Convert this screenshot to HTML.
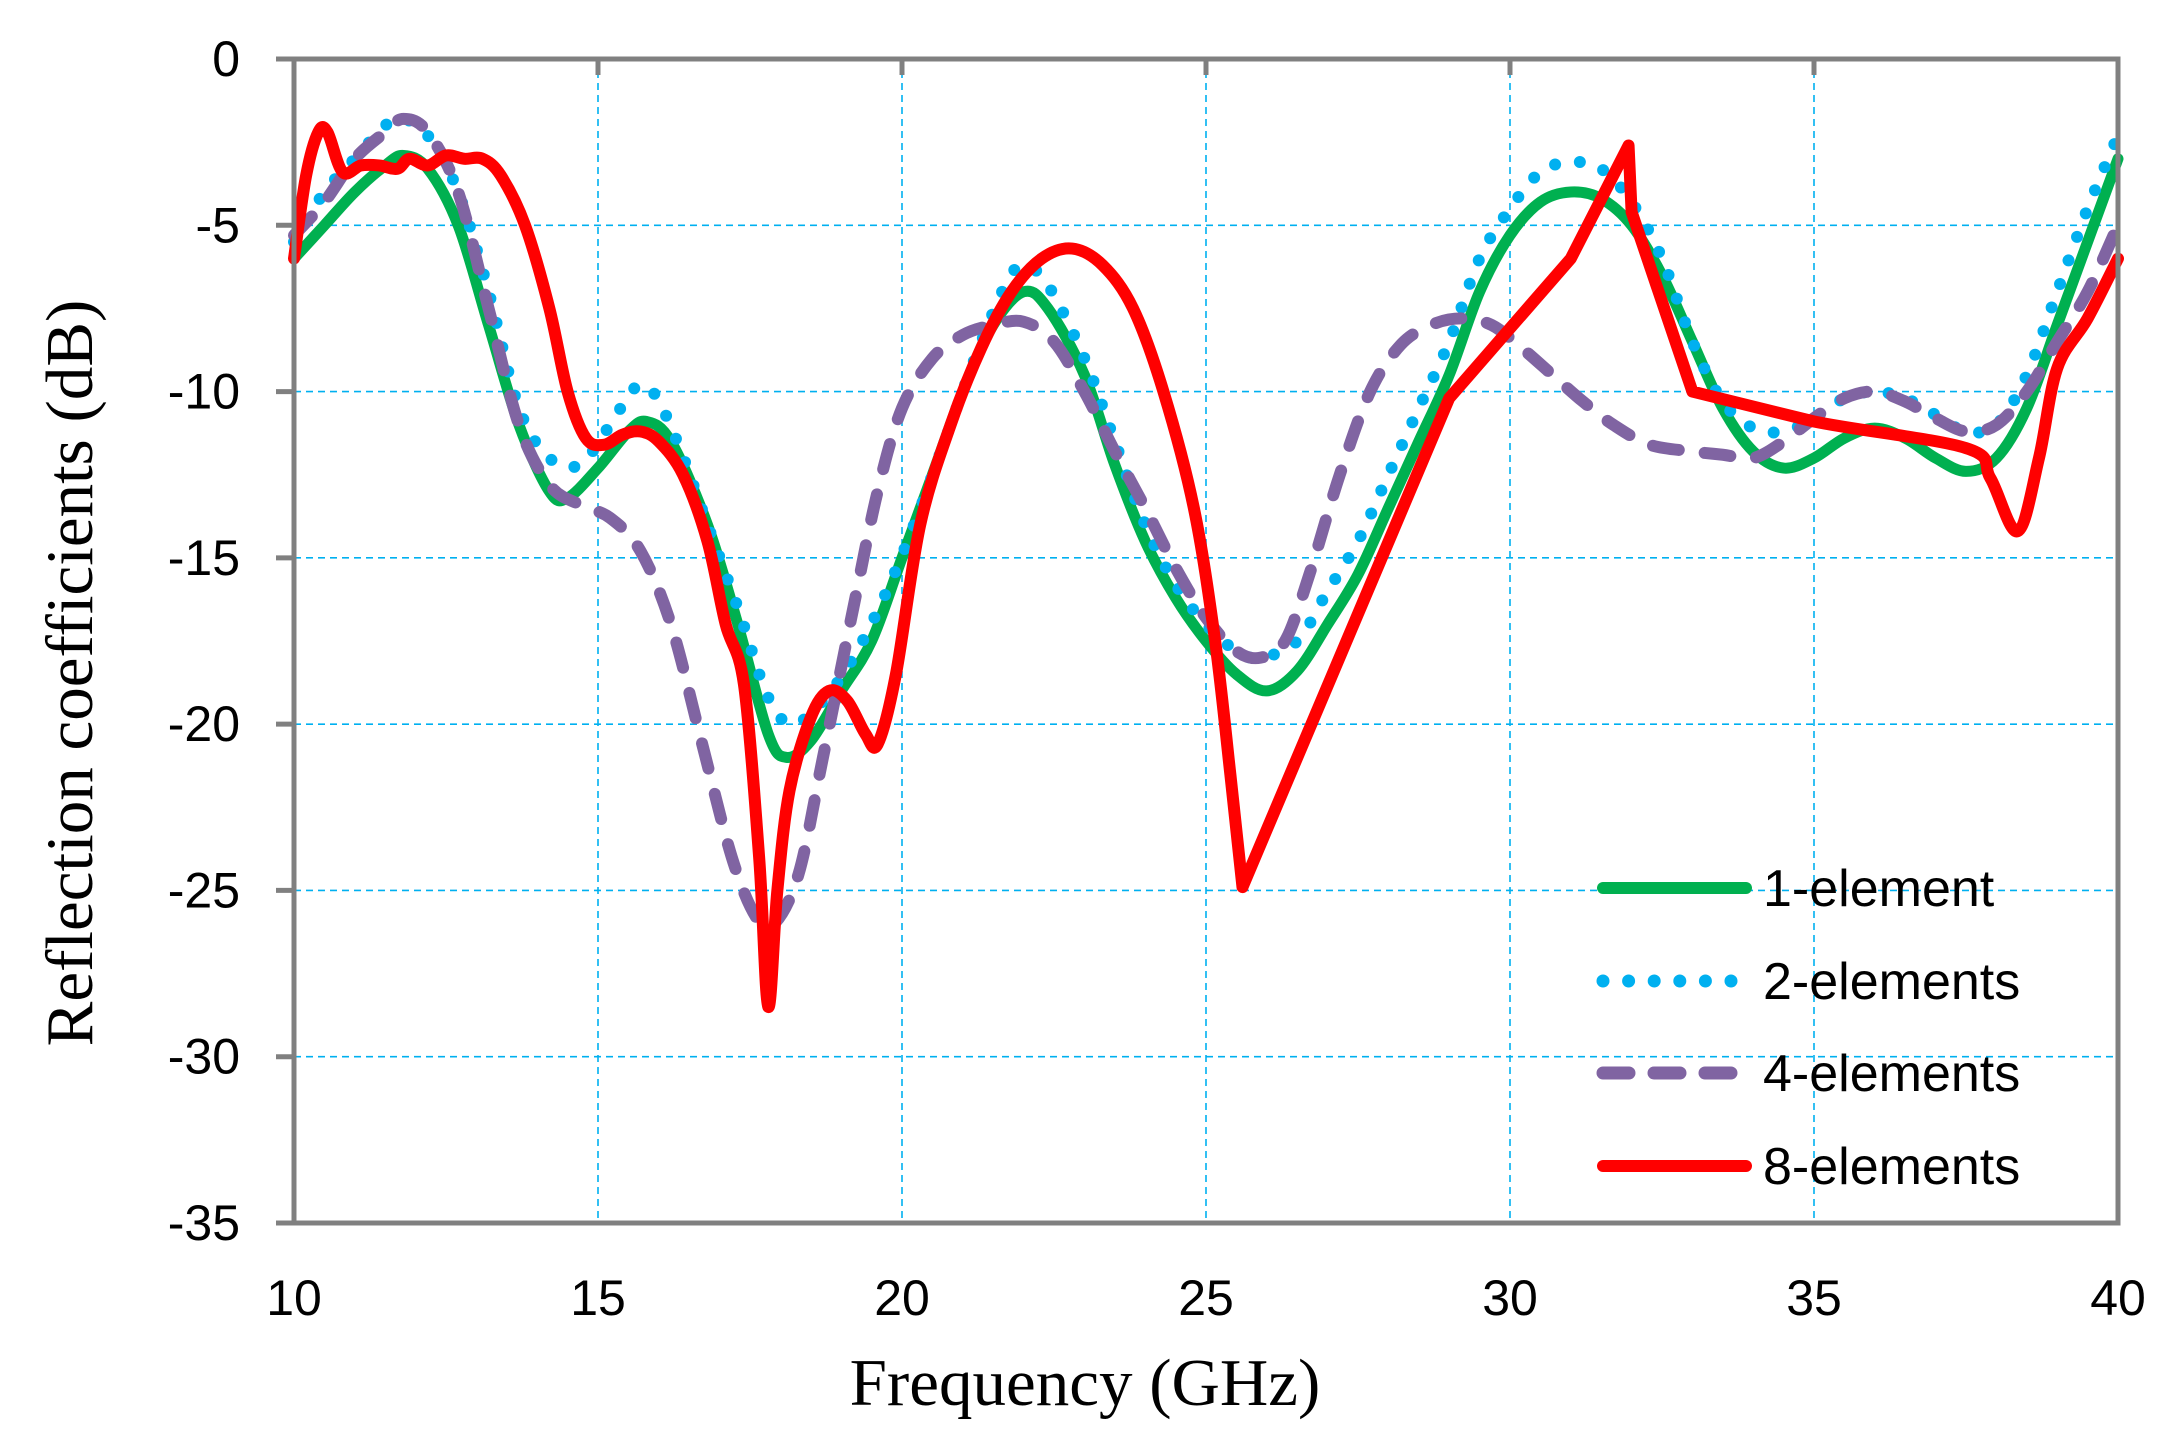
<!DOCTYPE html>
<html><head><meta charset="utf-8"><style>
html,body{margin:0;padding:0;background:#fff;}
svg{display:block;}
.t{font-family:"Liberation Sans",sans-serif;font-size:50px;fill:#000;}
.lg{font-family:"Liberation Sans",sans-serif;font-size:52px;fill:#000;}
.s{font-family:"Liberation Serif",serif;font-size:67px;fill:#000;}
</style></head><body>
<svg id="c" width="2165" height="1449" xmlns="http://www.w3.org/2000/svg">
<g id="grid" stroke="#00B0F0" stroke-width="1.6" stroke-dasharray="7 5"></g>
<g id="series" fill="none" stroke-linejoin="round" stroke-linecap="round"></g>
<g id="axes" stroke="#808080" stroke-width="5" fill="none"></g>
<g id="labels"></g>
<text class="s" x="1085" y="1405" text-anchor="middle">Frequency (GHz)</text>
<text class="s" transform="translate(92,673) rotate(-90)" text-anchor="middle">Reflection coefficients (dB)</text>
<g stroke-linecap="round" fill="none">
<line x1="1603" y1="888" x2="1746" y2="888" stroke="#00B050" stroke-width="12"/>
<line x1="1603" y1="981" x2="1746" y2="981" stroke="#00B0F0" stroke-width="13" stroke-dasharray="0 25.6"/>
<line x1="1603" y1="1073" x2="1746" y2="1073" stroke="#8064A2" stroke-width="13" stroke-dasharray="26 25"/>
<line x1="1603" y1="1166" x2="1746" y2="1166" stroke="#FF0000" stroke-width="12"/>
</g>
<text class="lg" x="1763" y="906">1-element</text>
<text class="lg" x="1763" y="999">2-elements</text>
<text class="lg" x="1763" y="1091">4-elements</text>
<text class="lg" x="1763" y="1184">8-elements</text>
</svg>
<script>
var L=294,R=2118,T=59,B=1223;
function X(f){return L+(f-10)*(R-L)/30;}
function Y(d){return T-d*(B-T)/35;}
var NS="http://www.w3.org/2000/svg";
function el(p,n,a,txt){var e=document.createElementNS(NS,n);for(var k in a)e.setAttribute(k,a[k]);if(txt!==undefined)e.textContent=txt;document.getElementById(p).appendChild(e);return e;}
for(var f=15;f<40;f+=5)el("grid","line",{x1:X(f),y1:T,x2:X(f),y2:B});
for(var d=-5;d>-35;d-=5)el("grid","line",{x1:L,y1:Y(d),x2:R,y2:Y(d)});
el("axes","rect",{x:L,y:T,width:R-L,height:B-T});
for(var d=0;d>=-35;d-=5){el("axes","line",{x1:L-18,y1:Y(d),x2:L,y2:Y(d)});
 el("labels","text",{"class":"t",x:240,y:Y(d)+17,"text-anchor":"end"},String(d));}
for(var f=10;f<=40;f+=5){el("axes","line",{x1:X(f),y1:T,x2:X(f),y2:T+16});
 el("labels","text",{"class":"t",x:X(f),y:1315,"text-anchor":"middle"},String(f));}
function path(pts){var p=pts.map(function(a){return [X(a[0]),Y(a[1]),a[2]];});
 var s="M"+p[0][0]+","+p[0][1];
 for(var i=0;i<p.length-1;i++){var p1=p[i],p2=p[i+1];
  if(p1[2]&&p2[2]){s+="L"+p2[0]+","+p2[1];continue;}
  var p0=p[i-1]||p1,p3=p[i+2]||p2;
  if(p2[2])p3=p2;
  var c1x=p1[0]+(p2[0]-p0[0])/6,c1y=p1[1]+(p2[1]-p0[1])/6,c2x=p2[0]-(p3[0]-p1[0])/6,c2y=p2[1]-(p3[1]-p1[1])/6;
  s+="C"+c1x+","+c1y+" "+c2x+","+c2y+" "+p2[0]+","+p2[1];}
 return s;}
function P(s){return s.trim().split(/\s+/).map(function(t){return t.split(":").map(Number);});}
var g=P("10:-6 10.5:-5 11:-4 11.5:-3.2 11.8:-2.9 12.2:-3.3 12.7:-5 13.2:-8 13.7:-11 14.2:-13 14.5:-13.2 15:-12.3 15.5:-11.2 15.8:-10.9 16.2:-11.5 16.8:-14 17.3:-17 17.8:-20.3 18.1:-21 18.5:-20.5 19:-19 19.5:-17.5 20:-15 20.5:-12.5 21:-10 21.5:-8 22:-7 22.4:-7.5 23:-9.5 23.5:-12.2 24:-14.5 24.5:-16.2 25:-17.5 25.5:-18.5 26:-19 26.5:-18.4 27:-17 27.5:-15.5 28:-13.5 28.5:-11.5 29:-9.5 29.5:-7 30:-5.3 30.5:-4.3 31:-4 31.5:-4.2 32:-5 32.5:-6.5 33:-8.5 33.5:-10.5 34:-11.8 34.5:-12.3 35:-12 35.5:-11.4 36:-11.1 36.5:-11.4 37:-12 37.5:-12.4 38:-12 38.5:-10.5 39:-8 39.5:-5.5 40:-3");
var b=P("10:-5.5 10.5:-4 11:-3 11.5:-2 11.8:-1.8 12.2:-2.3 12.7:-4 13.2:-7 13.7:-10.5 14.2:-12 14.7:-12.2 15.2:-11 15.6:-9.9 15.9:-10 16.3:-11.5 16.8:-14 17.3:-16.5 17.8:-19.2 18.2:-20 18.7:-19.3 19.2:-18 19.7:-16.2 20.2:-14 20.7:-11.5 21.2:-9 21.7:-6.8 22:-6.2 22.4:-6.8 23:-9 23.5:-11.5 24:-14 24.5:-15.8 25:-17 25.5:-17.8 25.9:-18 26.5:-17.5 27:-16 27.5:-14.5 28:-12.5 28.5:-10.5 29:-8.5 29.5:-6 30:-4.5 30.5:-3.4 31:-3.1 31.5:-3.3 32:-4.3 32.5:-6 33:-8.5 33.5:-10.3 34:-11.1 34.5:-11.2 35:-10.8 35.5:-10.2 36:-10 36.5:-10.2 37:-10.7 37.5:-11.2 38:-11 38.5:-9.5 39:-7 39.5:-4.5 40:-2.3");
var p=P("10:-5.3 10.5:-4.3 11:-3 11.5:-2.2 11.8:-1.8 12.2:-2.2 12.7:-4 13.2:-7.5 13.7:-11 14.2:-12.8 14.7:-13.4 15.2:-13.8 15.7:-14.8 16.2:-17 16.7:-20.5 17.2:-24 17.6:-25.8 17.9:-26 18.3:-24.5 18.7:-21 19.2:-16.5 19.6:-13 20:-10.5 20.5:-9 21:-8.3 21.5:-8 22:-7.9 22.5:-8.5 23:-10 23.5:-11.8 24:-13.5 24.5:-15.3 25:-16.8 25.5:-17.8 25.9:-18 26.3:-17.5 26.7:-15.5 27.2:-12.5 27.7:-10 28.2:-8.6 28.7:-8 29.2:-7.8 29.7:-8 30.2:-8.7 30.7:-9.5 31.2:-10.3 31.7:-11 32.3:-11.6 33:-11.8 33.5:-11.9 34:-12 34.5:-11.5 35:-10.8 35.5:-10.2 36:-10 36.5:-10.3 37:-10.8 37.5:-11.2 38:-11 38.5:-10 39:-8.5 39.5:-7 40:-5");
var r=P("10:-6 10.2:-3.5 10.4:-2.2 10.55:-2.2 10.8:-3.4 11.1:-3.2 11.4:-3.2 11.7:-3.3 11.9:-3 12.2:-3.2 12.5:-2.9 12.8:-3 13.1:-3 13.4:-3.5 13.8:-5 14.2:-7.5 14.5:-10 14.8:-11.4 15.1:-11.6 15.4:-11.3 15.7:-11.2 16:-11.5 16.4:-12.5 16.8:-14.5 17.1:-17 17.4:-18.8 17.65:-24 17.8:-28.5 17.95:-25 18.15:-22 18.5:-19.8 18.8:-19 19.1:-19.3 19.4:-20.3 19.6:-20.6 19.9:-18.5 20.3:-14 20.8:-11 21.3:-8.7 21.8:-7 22.3:-6 22.8:-5.7 23.3:-6.2 23.8:-7.5 24.3:-10 24.8:-13.5 25.15:-17.5 25.4:-21.5:1 25.6:-24.9:1 29:-10.2:1 31:-6:1 31.95:-2.6:1 32:-4.6:1 33:-10:1 35:-10.9:1 37.5:-11.7 37.9:-12.6 38.35:-14.2 38.7:-12 39:-9.3 39.5:-7.8 40:-6");
el("series","path",{d:path(g),stroke:"#00B050","stroke-width":11});
el("series","path",{d:path(b),stroke:"#00B0F0","stroke-width":12,"stroke-dasharray":"0 25"});
el("series","path",{d:path(p),stroke:"#8064A2","stroke-width":12,"stroke-dasharray":"26 26"});
el("series","path",{d:path(r),stroke:"#FF0000","stroke-width":12});
</script>
</body></html>
